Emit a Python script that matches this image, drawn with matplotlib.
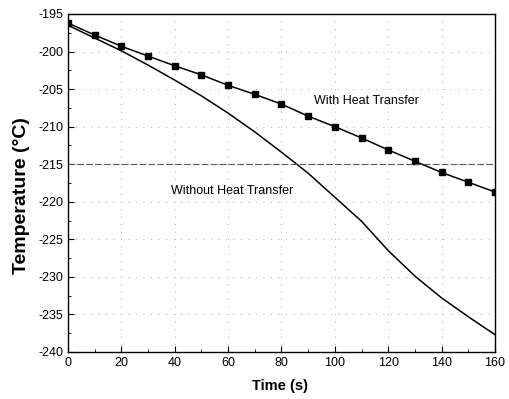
import matplotlib
matplotlib.use("Agg")
import matplotlib.pyplot as plt
import numpy as np

time_s = [0, 10, 20, 30, 40, 50, 60, 70, 80, 90, 100, 110, 120, 130, 140, 150, 160]
with_heat = [-196.2, -197.8, -199.3, -200.6, -201.9, -203.1, -204.5, -205.7, -207.0,
             -208.6, -210.0, -211.5, -213.1, -214.6, -216.1, -217.4, -218.7]
without_heat = [-196.5, -198.2, -199.9, -201.8, -203.8, -205.9, -208.2, -210.7, -213.4,
                -216.2, -219.4, -222.6, -226.5, -229.9, -232.8, -235.3, -237.7]

x_ticks = [0, 20, 40, 60, 80, 100, 120, 140, 160]
y_ticks = [-195, -200, -205, -210, -215, -220, -225, -230, -235, -240]

plt.rcParams["font.family"] = ["Liberation Sans", "DejaVu Sans"]
plt.rcParams["axes.unicode_minus"] = False

fig = plt.figure(figsize=(5.10, 3.99), dpi=100)
ax = fig.add_axes([68 / 510, 1 - 352 / 399, (495 - 68) / 510, (352 - 14) / 399])

ax.plot(time_s, without_heat, color="black", lw=1.1)
ax.plot(time_s, with_heat, color="black", lw=1.1, marker="s", ms=5)

# reference line at -215
ax.axhline(-215, color="0.35", lw=0.8, ls=(0, (6, 2)))

ax.set_xlim(0, 160)
ax.set_ylim(-240, -195)
ax.set_xticks(x_ticks)
ax.set_yticks(y_ticks)
ax.set_xticks(np.arange(0, 161, 10), minor=True)
ax.set_yticks(np.arange(-240, -194, 2.5), minor=True)
ax.tick_params(which="both", direction="in", labelsize=9)
ax.tick_params(which="major", length=4)
ax.tick_params(which="minor", length=2)
ax.grid(True, which="major", color="0.6", lw=0.6, ls=(0, (1, 8)))
for s in ax.spines.values():
    s.set_linewidth(1.0)

ax.text(92, -206.6, "With Heat Transfer", fontsize=9, va="center", ha="left")
ax.text(38.5, -218.5, "Without Heat Transfer", fontsize=9, va="center", ha="left")

ax.set_xlabel("Time (s)", fontsize=10.5, fontweight="bold")
ax.set_ylabel("Temperature (°C)", fontsize=14, fontweight="bold")
ax.xaxis.set_label_coords(0.496, -0.08)
ax.yaxis.set_label_coords(-0.088, 0.462)

fig.savefig("out.png", dpi=100)
